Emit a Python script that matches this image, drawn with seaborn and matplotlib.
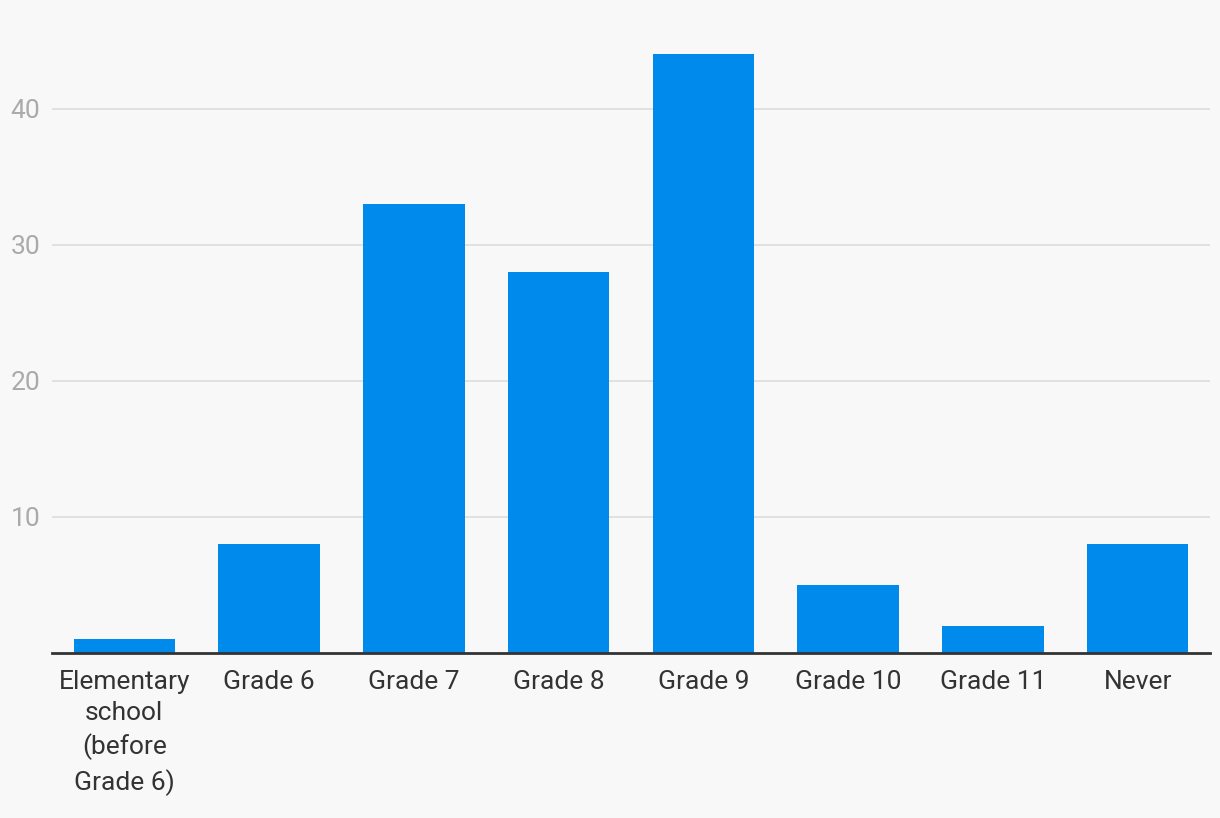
import matplotlib
matplotlib.use("Agg")
import matplotlib.pyplot as plt
import seaborn as sns
import pandas as pd
from matplotlib import font_manager

categories = ["Elementary\nschool\n(before\nGrade 6)", "Grade 6", "Grade 7", "Grade 8",
              "Grade 9", "Grade 10", "Grade 11", "Never"]
values = [1, 8, 33, 28, 44, 5, 2, 8]
yticks = [10, 20, 30, 40]

sns.set_theme(style="white")
names = {f.name for f in font_manager.fontManager.ttflist}
fam = "Liberation Sans Narrow" if "Liberation Sans Narrow" in names else "Roboto"
plt.rcParams['font.family'] = [fam, 'DejaVu Sans']

bg = "#f8f8f8"
fig = plt.figure(figsize=(12.2, 8.18), dpi=100, facecolor=bg)
ax = fig.add_axes([52/1220, 165/818, (1210-52)/1220, 653/818])
ax.set_facecolor(bg)

df = pd.DataFrame({"cat": categories, "val": values})
sns.barplot(data=df, x="cat", y="val", color="#008aeb", saturation=1, width=0.7,
            linewidth=0, ax=ax, zorder=3)

ax.set_xlim(-0.5, 7.5)
ax.set_ylim(0, 48)
ax.set_yticks(yticks)
ax.yaxis.grid(True, color="#dddddd", linewidth=1.2, zorder=0)
ax.set_axisbelow(True)
for s in ["top", "right", "left"]:
    ax.spines[s].set_visible(False)
ax.spines["bottom"].set_color("#333333")
ax.spines["bottom"].set_linewidth(2)
ax.spines["bottom"].set_zorder(5)
ax.set_xlabel("")
ax.set_ylabel("")
ax.tick_params(axis="x", length=0, pad=12, labelsize=19, labelcolor="#333333")
ax.tick_params(axis="y", length=0, pad=8.5, labelsize=19, labelcolor="#aaaaaa")
for t in ax.get_xticklabels():
    t.set_linespacing(1.4)

fig.savefig("out.png", dpi=100, facecolor=bg)
